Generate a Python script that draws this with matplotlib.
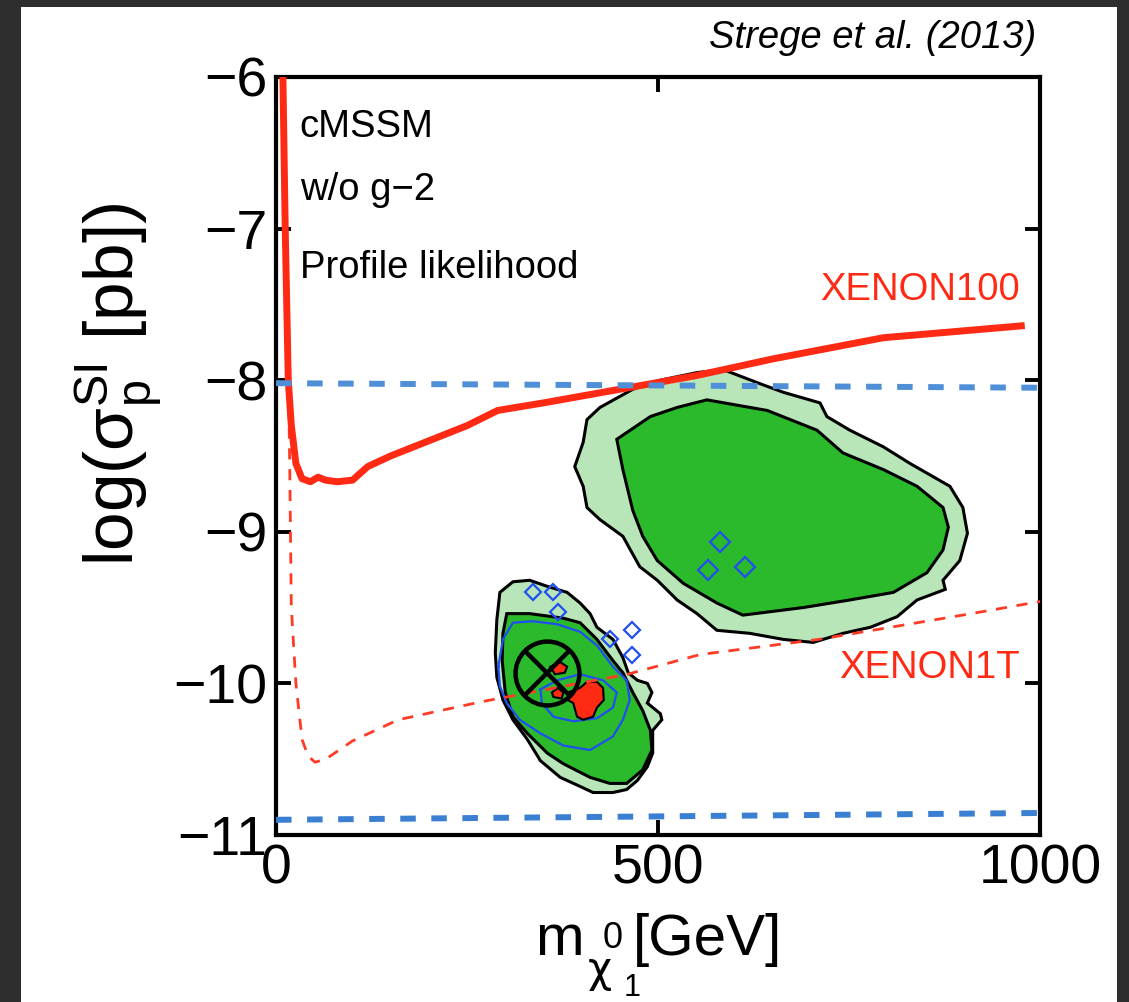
import numpy as np
import matplotlib.pyplot as plt
from matplotlib.patches import Rectangle

plt.rcParams['font.family'] = ['Liberation Sans', 'DejaVu Sans']
plt.rcParams['mathtext.fontset'] = 'custom'
plt.rcParams['mathtext.rm'] = 'Liberation Sans'
plt.rcParams['mathtext.it'] = 'Liberation Sans:italic'
plt.rcParams['mathtext.bf'] = 'Liberation Sans:bold'
plt.rcParams['mathtext.default'] = 'regular'

# direct detection limits: log10 sigma_SI [pb] vs neutralino mass [GeV]
xenon100_mass = [9, 12, 16, 20, 26, 34, 45, 55, 65, 80, 100, 120, 150, 200, 250, 290,
                 350, 450, 550, 650, 795, 980]
xenon100_sigma = [-6.0, -7.0, -8.0, -8.3, -8.55, -8.65, -8.67, -8.64, -8.66, -8.67, -8.66,
                  -8.57, -8.50, -8.40, -8.30, -8.20, -8.15, -8.06, -7.97, -7.86, -7.72, -7.64]
xenon1t_mass = [16, 18, 20, 26, 34, 42, 51, 65, 100, 160, 270, 460, 555, 710, 910, 1000]
xenon1t_sigma = [-7.9, -8.6, -9.5, -10.0, -10.37, -10.48, -10.52, -10.5, -10.38, -10.24,
                 -10.12, -9.94, -9.81, -9.71, -9.54, -9.46]

# horizontal band (dashed blue)
band_mass = [0, 1000]
band_top = [-8.02, -8.05]
band_bottom = [-10.90, -10.855]

# profile likelihood contours, upper-right island (95% outer, 68% inner)
hi_outer_mass = [585, 637, 664, 712, 721, 751, 795, 830, 882, 899, 905, 895, 873, 876, 839,
                 813, 778, 742, 703, 664, 620, 577, 551, 525, 499, 476, 454, 424, 407, 402,
                 391, 402, 407, 424, 467, 503, 551]
hi_outer_sigma = [-7.93, -8.03, -8.08, -8.15, -8.24, -8.33, -8.44, -8.55, -8.70, -8.84, -9.01,
                  -9.19, -9.32, -9.38, -9.45, -9.56, -9.63, -9.67, -9.73, -9.71, -9.67, -9.65,
                  -9.54, -9.45, -9.32, -9.23, -9.03, -8.92, -8.84, -8.70, -8.57, -8.41, -8.26,
                  -8.18, -8.06, -8.00, -7.95]
hi_inner_mass = [564, 643, 708, 742, 795, 839, 873, 880, 873, 852, 808, 751, 690, 611, 577,
                 533, 499, 480, 467, 454, 446, 490, 525]
hi_inner_sigma = [-8.13, -8.20, -8.33, -8.48, -8.59, -8.70, -8.84, -8.97, -9.12, -9.27, -9.40,
                  -9.45, -9.50, -9.55, -9.47, -9.34, -9.19, -9.03, -8.86, -8.59, -8.39, -8.24,
                  -8.18]

# lower-left island
lo_outer_mass = [310, 332, 355, 381, 398, 411, 420, 441, 454, 461, 473, 486, 492, 486, 503,
                 505, 493, 493, 486, 473, 459, 441, 415, 398, 372, 346, 329, 310, 297, 289,
                 287, 289, 293]
lo_outer_sigma = [-9.33, -9.32, -9.36, -9.40, -9.47, -9.54, -9.63, -9.71, -9.83, -9.93, -9.98,
                  -10.00, -10.06, -10.13, -10.20, -10.24, -10.31, -10.46, -10.55, -10.64,
                  -10.70, -10.72, -10.72, -10.68, -10.62, -10.51, -10.37, -10.24, -10.11,
                  -9.96, -9.80, -9.58, -9.40]
lo_inner_mass = [302, 332, 376, 398, 420, 441, 454, 467, 480, 490, 492, 480, 459, 437, 411,
                 376, 355, 329, 310, 300, 296, 297]
lo_inner_sigma = [-9.54, -9.54, -9.57, -9.60, -9.71, -9.85, -9.93, -10.06, -10.18, -10.31,
                  -10.44, -10.57, -10.66, -10.66, -10.62, -10.53, -10.46, -10.33, -10.22,
                  -10.06, -9.85, -9.67]

# posterior contours (blue)
post_outer_mass = [291, 297, 310, 336, 368, 398, 420, 441, 459, 463, 454, 441, 411, 376,
                   346, 319, 302, 293]
post_outer_sigma = [-9.89, -9.71, -9.60, -9.59, -9.61, -9.66, -9.75, -9.89, -9.98, -10.11,
                    -10.24, -10.35, -10.44, -10.41, -10.33, -10.24, -10.13, -10.02]
post_inner_mass = [346, 368, 398, 428, 446, 441, 420, 389, 363, 348]
post_inner_sigma = [-10.04, -9.98, -9.94, -9.98, -10.06, -10.16, -10.23, -10.25, -10.22, -10.13]
post_small_mass = [336, 363, 369, 437, 466, 466]
post_small_sigma = [-9.40, -9.40, -9.53, -9.71, -9.65, -9.81]
post_hi_mass = [581, 614, 565]
post_hi_sigma = [-9.07, -9.23, -9.25]

# best-fit region (red) and best-fit point
bf_mass = [382, 398, 407, 420, 428, 429, 420, 415, 402, 394, 389, 382]
bf_sigma = [-10.06, -10.03, -9.99, -9.99, -10.03, -10.11, -10.16, -10.22, -10.24, -10.22,
            -10.13, -10.11]
bf_small1_mass = [359, 372, 381, 378, 365]
bf_small1_sigma = [-9.89, -9.86, -9.89, -9.93, -9.94]
bf_small2_mass = [361, 369, 376, 374, 363]
bf_small2_sigma = [-10.06, -10.03, -10.06, -10.10, -10.09]
best_fit = (355, -9.93)

dark_green = '#2bba2b'
light_green = '#b9e6b8'
red = '#ff2a14'
blue = '#1f4ff0'

W, H = 1129, 1002
fig = plt.figure(figsize=(W / 100, H / 100), dpi=100, facecolor='#2e2e2e')
fig.patches.append(Rectangle((21 / W, 0), 1096 / W, 995 / H,
                             transform=fig.transFigure, facecolor='white',
                             edgecolor='none', zorder=-10))
ax = fig.add_axes([0.2445, 0.1667, 0.6767, 0.7565])
ax.set_zorder(1)
ax.set_facecolor('white')

for m, s, c in [(hi_outer_mass, hi_outer_sigma, light_green),
                (hi_inner_mass, hi_inner_sigma, dark_green),
                (lo_outer_mass, lo_outer_sigma, light_green),
                (lo_inner_mass, lo_inner_sigma, dark_green)]:
    ax.fill(m, s, facecolor=c, edgecolor='black', lw=2.2, zorder=2)

for m, s in [(post_outer_mass, post_outer_sigma), (post_inner_mass, post_inner_sigma)]:
    ax.plot(m + m[:1], s + s[:1], color=blue, lw=1.6, zorder=3)
ax.plot(post_small_mass, post_small_sigma, 'D', mfc='none', mec=blue, ms=8, mew=1.6,
        zorder=3)
ax.plot(post_hi_mass, post_hi_sigma, 'D', mfc='none', mec=blue, ms=10, mew=1.6, zorder=3)

for m, s in [(bf_mass, bf_sigma), (bf_small1_mass, bf_small1_sigma),
             (bf_small2_mass, bf_small2_sigma)]:
    ax.fill(m, s, facecolor=red, edgecolor='black', lw=1.5, zorder=4)

ax.plot(xenon1t_mass, xenon1t_sigma, color='#ff3b26', lw=2.0, dashes=(4, 3.5), zorder=5)
ax.plot(xenon100_mass, xenon100_sigma, color=red, lw=5, solid_capstyle='butt', zorder=5)
ax.plot(band_mass, band_top, color='#4f8fd8', lw=4.3, dashes=(2.6, 2.6), zorder=6)
ax.plot(band_mass, band_bottom, color='#3a7fd2', lw=4.3, dashes=(2.6, 2.6), zorder=6)

ax.plot(*best_fit, 'o', ms=46, mfc='none', mec='black', mew=3.2, zorder=7)
ax.plot(*best_fit, 'x', ms=33, mec='black', mew=3.2, zorder=7)

ax.set_xlim(0, 1000)
ax.set_ylim(-11, -6)
ax.set_xticks([0, 500, 1000])
ax.set_yticks([-11, -10, -9, -8, -7, -6])
ax.tick_params(direction='in', length=11, width=2.8, labelsize=40, pad=6,
               top=True, right=True)
for sp in ax.spines.values():
    sp.set_linewidth(3)

ax.set_ylabel(r'log(σ$_\mathrm{p}^\mathrm{SI}$ [pb])', fontsize=50)
ax.yaxis.set_label_coords(-0.145, 0.594)


def fig_text(px, py, s, **kw):
    # place a text by pixel position (from the top-left corner)
    return fig.text(px / W, 1 - py / H, s, va='baseline', **kw)


# x label built from pieces: m, chi with 0 above and 1 below, unit
fig_text(535, 955, 'm', fontsize=42)
fig_text(588, 982, 'χ', fontsize=30, family='DejaVu Sans')
fig_text(603, 948, '0', fontsize=26)
fig_text(624, 996, '1', fontsize=22)
fig_text(633, 955, '[GeV]', fontsize=42)

ax.text(0.031, 0.934, 'cMSSM', transform=ax.transAxes, fontsize=27.5, va='center')
ax.text(0.031, 0.851, 'w/o g−2', transform=ax.transAxes, fontsize=27.5, va='center')
ax.text(0.031, 0.748, 'Profile likelihood', transform=ax.transAxes, fontsize=27.5,
        va='center')
ax.text(0.974, 0.719, 'XENON100', transform=ax.transAxes, fontsize=27.5, color=red,
        ha='right', va='center')
ax.text(0.974, 0.22, 'XENON1T', transform=ax.transAxes, fontsize=27.5, color=red,
        ha='right', va='center')
fig.text(1036 / W, 1 - 38 / H, 'Strege et al. (2013)', fontsize=27.5, style='italic',
         ha='right', va='center')

fig.savefig('out.png', dpi=100, facecolor=fig.get_facecolor())
